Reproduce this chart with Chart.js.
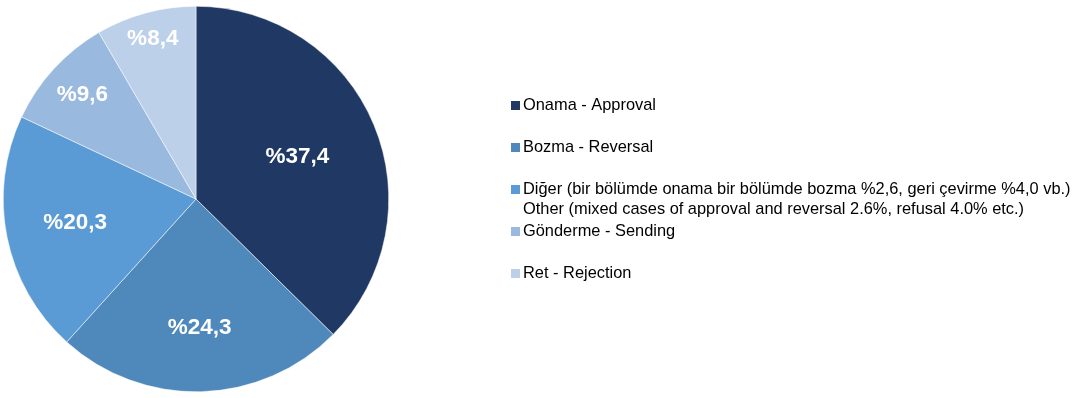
<!DOCTYPE html>
<html>
<head>
<meta charset="utf-8">
<script src="https://cdn.jsdelivr.net/npm/chart.js@4"></script>
<style>
  html, body { margin: 0; padding: 0; background: #fff; }
  #wrap { width: 1082px; height: 398px; position: relative; }
</style>
</head>
<body>
<div id="wrap"><canvas id="myChart"></canvas></div>
<script>
// data
const kategoriler = [
    ['Onama - Approval'],
    ['Bozma - Reversal'],
    ['Diğer (bir bölümde onama bir bölümde bozma %2,6, geri çevirme %4,0 vb.)',
     'Other (mixed cases of approval and reversal 2.6%, refusal 4.0% etc.)'],
    ['Gönderme - Sending'],
    ['Ret - Rejection']
];
const oranlar = [37.4, 24.3, 20.3, 9.6, 8.4];
const renkler = ['#203864', '#4F88BB', '#5B9BD5', '#9AB9DE', '#BDD0EA'];

// how far out (fraction of radius) each value label sits
const etiketMesafe = [0.57, 0.67, 0.64, 0.80, 0.86];

const etiketPlugin = {
    id: 'etiketler',
    afterDatasetsDraw(chart) {
        const c = chart.ctx;
        const arcs = chart.getDatasetMeta(0).data;
        c.save();
        c.fillStyle = '#fff';
        c.font = 'bold 22.5px "Liberation Sans", Arial, sans-serif';
        c.textAlign = 'center';
        c.textBaseline = 'middle';
        arcs.forEach((arc, i) => {
            const mid = (arc.startAngle + arc.endAngle) / 2;
            const r = arc.outerRadius * etiketMesafe[i];
            const x = arc.x + Math.cos(mid) * r;
            const y = arc.y + Math.sin(mid) * r;
            c.fillText('%' + oranlar[i].toFixed(1).replace('.', ','), x, y);
        });
        c.restore();
    }
};

const legendPlugin = {
    id: 'yanLegend',
    afterDraw(chart) {
        const c = chart.ctx;
        c.save();
        c.font = '16.4px "Liberation Sans", Arial, sans-serif';
        c.textBaseline = 'alphabetic';
        let y = 110;
        kategoriler.forEach((satirlar, i) => {
            c.fillStyle = renkler[i];
            c.fillRect(511, y - 9, 9, 9);
            c.fillStyle = '#000';
            satirlar.forEach((s, j) => {
                c.fillText(s, 523, y + j * 20);
            });
            y += 42;
        });
        c.restore();
    }
};

const ctx = document.getElementById('myChart').getContext('2d');
new Chart(ctx, {
    type: 'pie',
    data: {
        labels: kategoriler.map(k => k[0]),
        datasets: [{
            data: oranlar,
            backgroundColor: renkler,
            borderColor: '#fff',
            borderWidth: 0.5
        }]
    },
    options: {
        responsive: true,
        maintainAspectRatio: false,
        animation: false,
        layout: { padding: { left: 3, right: 693, top: 6, bottom: 6 } },
        plugins: {
            legend: { display: false },
            tooltip: { enabled: false }
        }
    },
    plugins: [etiketPlugin, legendPlugin]
});
</script>
</body>
</html>
